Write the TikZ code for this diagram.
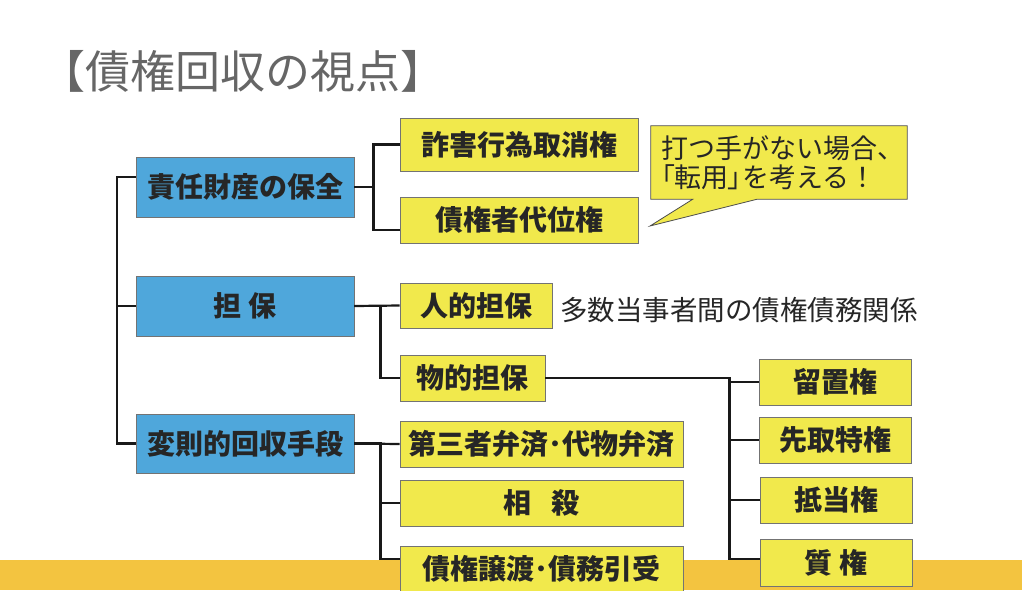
\documentclass[tikz,border=0pt]{standalone}
\usepackage{fontspec}
\newfontfamily\jp{Noto Sans CJK JP}
\newfontfamily\jpprop[RawFeature=+palt]{Noto Sans CJK JP}
\usetikzlibrary{backgrounds}
\definecolor{headblue}{HTML}{4FA7DB}
\definecolor{itemyellow}{HTML}{F1E94C}
\definecolor{bandorange}{HTML}{F3C440}
\definecolor{titlegray}{HTML}{666666}

\begin{document}
\begin{tikzpicture}[x=1pt, y=-1pt]
    % main headings (blue)
    \tikzstyle{head}=[draw=black!55, line width=.8pt, fill=headblue, inner sep=0, minimum width=218pt, minimum height=60pt, text=black!85, font=\jp\bfseries\fontsize{28}{32}\selectfont]
    % concrete means (yellow)
    \tikzstyle{item}=[draw=black!55, line width=.8pt, fill=itemyellow, inner sep=0, minimum height=46pt, text=black!85, font=\jp\bfseries\fontsize{28}{32}\selectfont]
    % connectors
    \tikzstyle{link}=[line width=2.2pt, black!90]
    \useasboundingbox (0,0) rectangle (1022,590);
    \fill[bandorange] (0,560) rectangle (1022,590);
    \node[anchor=west, inner sep=0, text=titlegray, font=\jp\fontsize{45}{50}\selectfont] (TITLE) at (40,71) {【債権回収の視点】};
    \node[head] (HOZEN) at (245,187) {責任財産の保全};
    \node[head] (TANPO) at (245,306) {担 保};
    \node[head, minimum height=59pt] (HENSOKU) at (245,443.5) {変則的回収手段};
    \node[item, minimum width=238pt, minimum height=53pt] (SAGAI) at (519,144.5) {詐害行為取消権};
    \node[item, minimum width=238pt] (DAII) at (519,220) {債権者代位権};
    \node[item, minimum width=152pt, minimum height=45pt] (JIN) at (476,305.5) {人的担保};
    \node[item, minimum width=145pt] (BUTSU) at (472.5,378) {物的担保};
    \node[item, minimum width=283pt] (DAISAN) at (541.5,444) {第三者弁済･代物弁済};
    \node[item, minimum width=283pt] (SOSAI) at (541.5,503) {相\hspace{.7em}殺};
    \node[item, minimum width=283pt] (JOTO) at (541.5,569) {債権譲渡･債務引受};
    \node[item, minimum width=152pt] (RYUCHI) at (835,382) {留置権};
    \node[item, minimum width=152pt] (SAKI) at (835,440) {先取特権};
    \node[item, minimum width=152pt] (TEITO) at (836,500) {抵当権};
    \node[item, minimum width=152pt, minimum height=47pt] (SHICHI) at (836,562.5) {質 権};
    \node[anchor=west, inner sep=0, text=black!85, font=\jp\fontsize{27.5}{32}\selectfont] (TASU) at (560,310) {多数当事者間の債権債務関係};
    % speech balloon
    \node[minimum width=256pt, minimum height=73pt, inner xsep=10pt, inner ysep=0, text width=236pt, align=left, text=black!85, font=\jp\fontsize{27}{29}\selectfont] (NOTE) at (779,162.5) {打つ手がない場合、\\{\jpprop 「転用」}を考える！};
    \coordinate (TIP) at (650,226);
    \begin{scope}[on background layer]
        \draw[draw=black!70, line width=.8pt, fill=itemyellow] (NOTE.north west) -- (NOTE.north east) -- (NOTE.south east) -- ([xshift=-150pt]NOTE.south east) -- (TIP) -- ([xshift=42pt]NOTE.south west) -- (NOTE.south west) -- cycle;
    \end{scope}
    \coordinate (ROOT) at (117,177);
    \draw[link] (HOZEN.west |- ROOT) -- (ROOT) |- (HENSOKU.west);
    \draw[link] (ROOT) |- (TANPO.west);
    \draw[link] (HOZEN.east) -- ++(19,0) |- (SAGAI.west);
    \draw[link] (HOZEN.east) -- ++(19,0) |- ([yshift=-10pt]DAII.west);
    \draw[link] (TANPO.east) -- (JIN.west);
    \draw[link] (TANPO.east) -- ++(26,0) |- (BUTSU.west);
    \draw[link] (HENSOKU.east) -- (DAISAN.west);
    \draw[link] (HENSOKU.east) -- ++(26,0) |- (SOSAI.west);
    \draw[link] (HENSOKU.east) -- ++(26,0) |- ([yshift=10pt]JOTO.west);
    \draw[link] (BUTSU.east) -- ++(184,0) |- (RYUCHI.west);
    \draw[link] (BUTSU.east) -- ++(184,0) |- (SAKI.west);
    \draw[link] (BUTSU.east) -- ++(184,0) |- (TEITO.west);
    \draw[link] (BUTSU.east) -- ++(184,0) |- ([yshift=3.5pt]SHICHI.west);
\end{tikzpicture}
\end{document}
